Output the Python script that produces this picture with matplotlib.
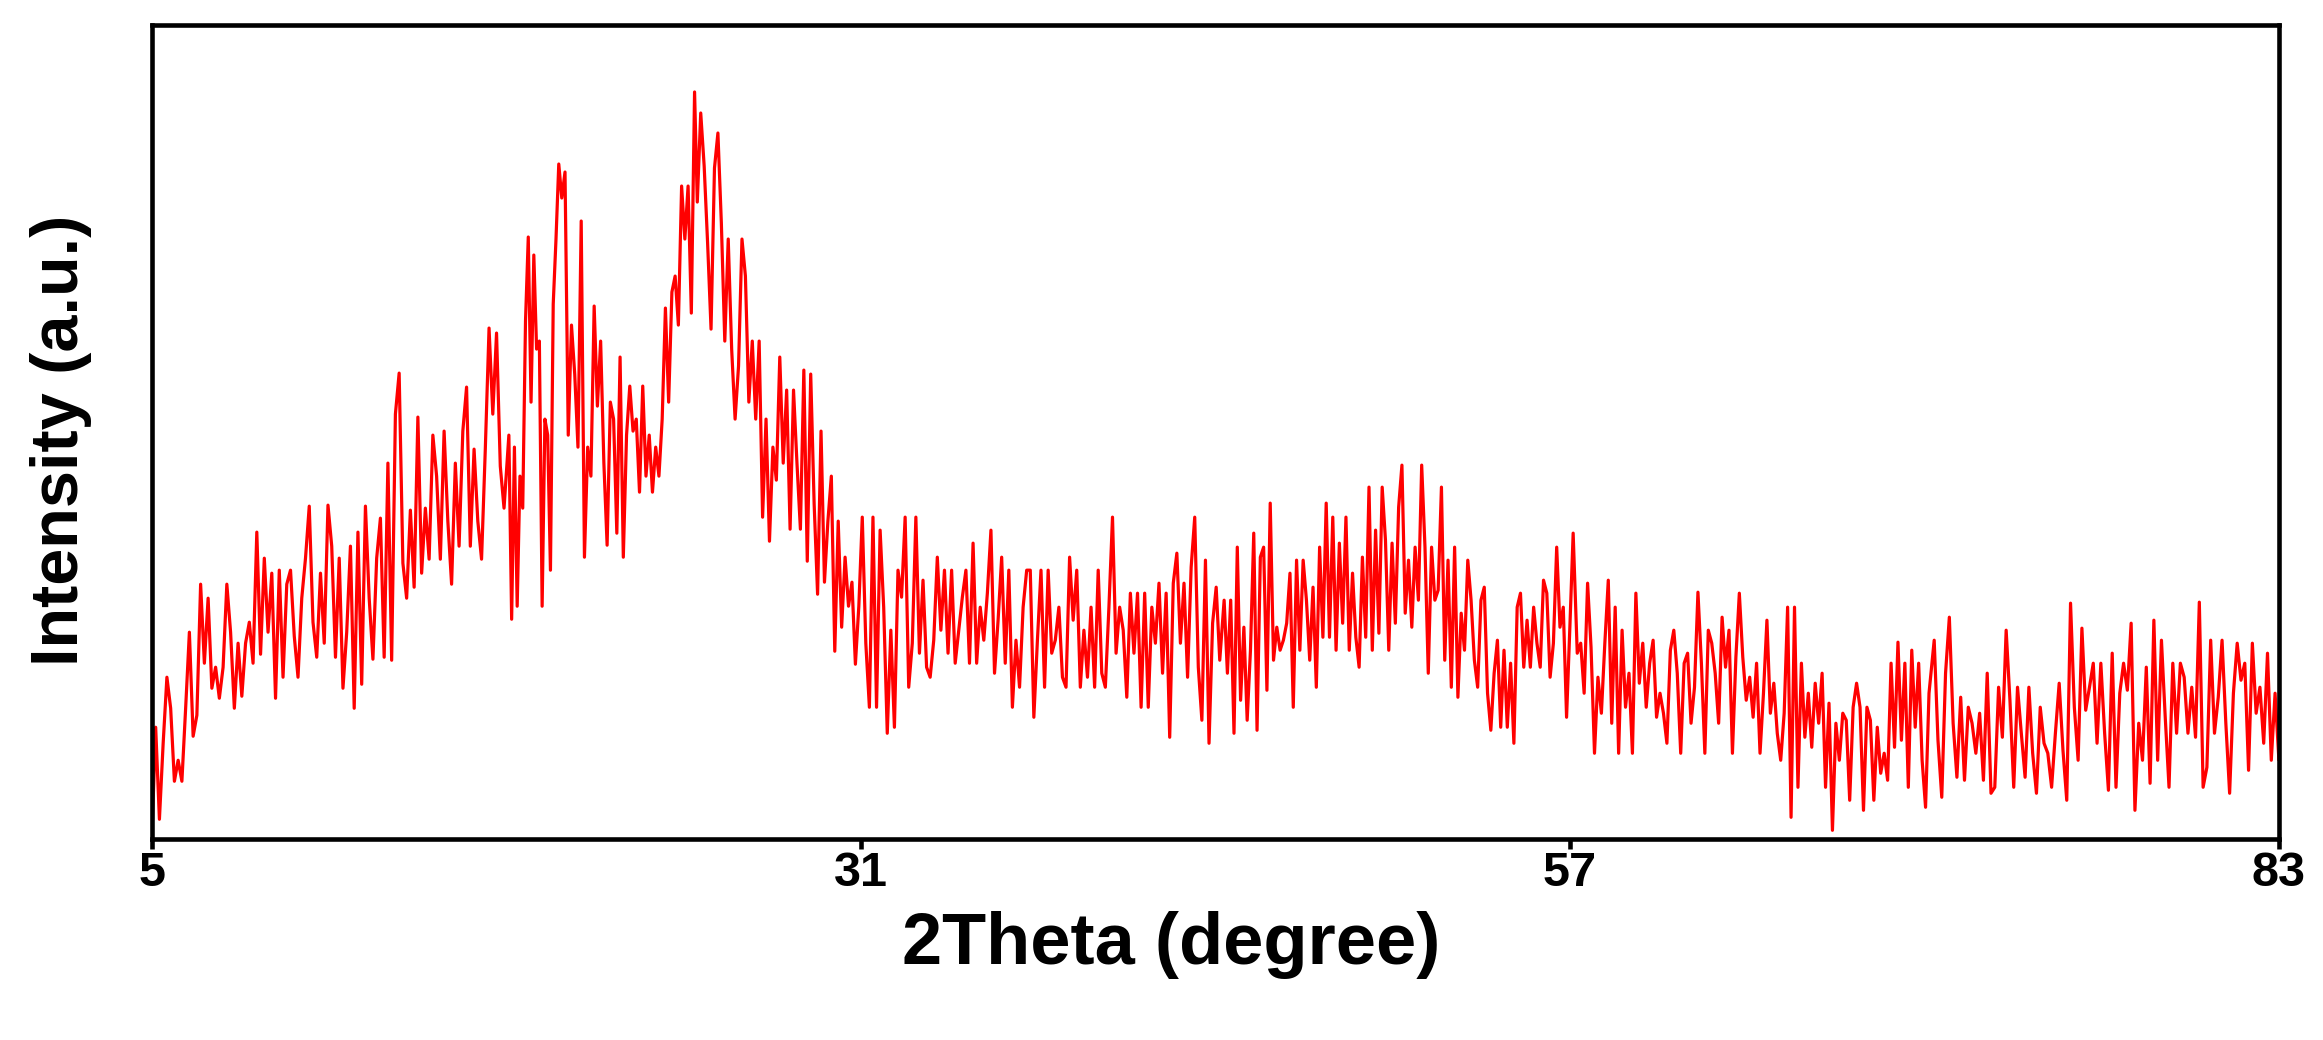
import numpy as np
import matplotlib
matplotlib.use("Agg")
import matplotlib.pyplot as plt

# XRD scan, split into stretches of the 2-theta range.
# Each stretch is sampled at a constant step between its start and end angle.
seg_angles = [(5.0, 18.05), (18.09, 19.92), (20.03, 24.9), (25.0, 31.05),
              (31.18, 44.16), (44.32, 57.12), (57.27, 70.17), (70.36, 83.0)]

seg1 = [3, 112, 20, 96, 162, 131, 58, 79, 58, 131, 207, 103, 124, 255, 176, 241,
        151, 172, 141, 172, 255, 207, 131, 196, 143, 196, 217, 176, 307, 185, 281,
        207, 266, 141, 269, 162, 255, 269, 203, 162, 241, 281, 333, 217, 182, 266,
        196, 334, 293, 182, 281, 151, 207, 293, 131, 307, 155, 333, 241, 180, 281,
        321, 182, 376, 179, 425, 466, 276, 241, 329, 252, 422, 266, 331, 280, 404,
        363, 280, 408, 318, 255, 376, 293, 408, 452, 293, 390, 318, 280, 390, 511,
        425, 506, 373, 331, 387]
seg2a = [404, 220, 392, 233, 363, 331, 518, 602, 437, 584, 490, 498, 233, 420, 404,
         269, 535, 600, 675]
seg2b = [641, 667, 404, 514, 465, 392, 618, 282, 392, 363, 533, 433, 498, 376, 294,
         437, 420, 306, 482, 282, 404, 453, 408, 420, 347, 453, 363, 404, 347, 392,
         363, 420, 531, 437, 547, 563, 514, 653, 600, 653, 526, 747]
seg2c = [637, 726, 673, 596, 510, 671, 706, 616, 498, 600, 490, 420, 473, 600,
         563, 437, 498, 420, 498, 322, 420, 298, 392, 359, 482, 376, 449, 310, 449,
         376, 310, 469, 278, 465, 335, 245, 408, 257, 318, 363, 188, 318, 212, 282,
         233, 257, 175, 233, 322]
seg3 = [196, 132, 322, 132, 309, 232, 106, 209, 112, 269, 242, 322, 152, 196, 322,
        186, 259, 172, 162, 199, 282, 209, 269, 186, 269, 176, 209, 242, 269, 176,
        296, 176, 232, 199, 246, 309, 166, 219, 282, 176, 269, 132, 199, 152, 232,
        269, 269, 122, 199, 269, 152, 269, 186, 199, 232, 162, 152, 282, 219, 269,
        152, 209, 162, 232, 152, 269, 166, 152, 232, 322, 186, 232, 209, 142, 246,
        186, 246, 132, 246, 132, 232, 196, 256, 166, 246, 102, 256, 286, 196, 256,
        162, 272, 322, 172, 119, 279, 96, 216, 252, 179]
seg4 = [239, 166, 239, 106, 292, 139, 212, 119, 189, 306, 109, 282, 292, 149, 336,
        179, 212, 189, 199, 216, 266, 132, 279, 189, 279, 239, 179, 252, 152, 292,
        202, 336, 202, 322, 189, 296, 216, 322, 189, 266, 202, 172, 282, 202, 352,
        189, 309, 206, 352, 299, 189, 296, 216, 332, 374, 226, 279, 212, 292, 239,
        374, 292, 166, 292, 239, 249, 352, 179, 279, 152, 292, 142, 226, 189, 279,
        239, 179, 152, 239, 252, 146, 109, 166, 199, 112, 189, 112, 176, 96, 232,
        246, 172, 219, 172, 232, 196, 172, 259, 246, 162, 196, 292, 212, 232, 122,
        212, 306]
seg5 = [186, 196, 146, 256, 192, 86, 162, 126, 196, 259, 116, 232, 86, 209, 132,
        166, 86, 246, 156, 196, 132, 176, 199, 122, 146, 126, 96, 189, 209, 166, 86,
        176, 186, 116, 152, 247, 176, 86, 209, 196, 166, 116, 222, 172, 209, 86,
        182, 246, 182, 139, 162, 122, 176, 86, 146, 219, 126, 156, 106, 79, 126,
        232, 22, 232, 52, 176, 102, 146, 92, 156, 116, 166, 52, 136, 9, 116, 79,
        126, 119, 39, 132, 156, 132, 29, 132, 119, 39, 112, 66, 86, 59, 176, 92,
        197, 99, 176, 52, 189, 112, 176, 79, 32, 146]
seg6 = [199, 99, 42, 166, 222, 116, 62, 142, 59, 132, 116, 86, 126, 59, 166, 46,
        52, 152, 102, 209, 139, 52, 152, 106, 62, 152, 86, 46, 132, 96, 86, 52, 106,
        156, 89, 39, 236, 132, 79, 211, 129, 152, 176, 96, 176, 106, 49, 186, 52,
        146, 176, 149, 216, 29, 116, 79, 172, 56, 219, 79, 199, 122, 52, 176, 106,
        176, 162, 106, 152, 102, 237, 52, 72, 199, 106, 142, 199, 116, 46, 146, 196,
        159, 176, 69, 196, 126, 152, 96, 186, 79, 146, 80]

x_ticks = [5, 31, 57, 83]
x_label = "2Theta (degree)"
y_label = "Intensity (a.u.)"


def build_scan():
    segments = [seg1, seg2a, seg2b, seg2c, seg3, seg4, seg5, seg6]
    angles = [np.linspace(a, b, len(s)) for (a, b), s in zip(seg_angles, segments)]
    return np.concatenate(angles), np.concatenate([np.asarray(s, float) for s in segments])


def plot_xrd(output_path: str) -> None:
    plt.rcParams["font.family"] = ["Liberation Sans", "DejaVu Sans"]
    two_theta, intensity = build_scan()

    fig = plt.figure(figsize=(23.23, 10.40), dpi=100)
    ax = fig.add_axes([0.0654, 0.193, 0.9156, 0.783])
    ax.plot(two_theta, intensity, color="#ff0000", linewidth=2.3)

    ax.set_xlim(5, 83)
    ax.set_ylim(0, 814)
    ax.set_xticks(x_ticks)
    ax.set_xticklabels([str(t) for t in x_ticks], fontsize=35, fontweight="bold")
    ax.set_yticks([])
    ax.tick_params(axis="x", direction="out", length=7, width=3.3, pad=1.5)
    for side in ax.spines.values():
        side.set_linewidth(3.3)

    ax.set_xlabel(x_label, fontsize=52, fontweight="bold")
    ax.set_ylabel(y_label, fontsize=48, fontweight="bold")
    ax.xaxis.set_label_coords(0.479, -0.088)
    ax.yaxis.set_label_coords(-0.028, 0.49)

    fig.savefig(output_path, dpi=100)
    plt.close(fig)


plot_xrd("out.png")
